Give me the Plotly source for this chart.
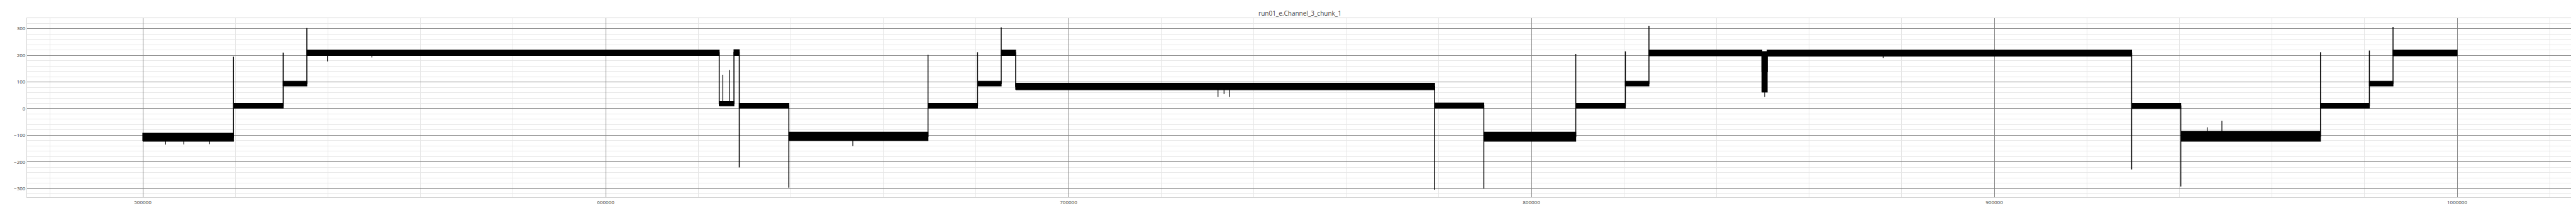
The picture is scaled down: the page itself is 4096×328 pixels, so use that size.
import plotly.graph_objects as go

# ---- data ----
title_text = "run01_e.Channel_3_chunk_1"

# plateau segments: start, end, lower edge of noise band, upper edge of noise band
seg_start = [500000, 519600, 530340, 535450, 624540, 627720, 628870, 639580, 669650, 680350, 685460,
             688580, 779100, 789730, 809590, 820300, 825400, 849800, 850950, 929680, 940300, 970480,
             981040, 986150]
seg_end = [519600, 530340, 535450, 624540, 627720, 628870, 639580, 669650, 680350, 685460, 688580,
           779100, 789730, 809590, 820300, 825400, 849800, 850950, 929680, 940300, 970480, 981040,
           986150, 1000000]
seg_lo = [-122, 2, 85, 199, 10, 199, 2, -120, 2, 85, 199, 71, 2, -122, 2, 85, 198, 62, 197, 0, -122, 2, 85, 198]
seg_hi = [-92, 20, 103, 220, 27, 221, 20, -88, 20, 103, 220, 95, 21, -88, 20, 103, 220, 214, 220, 20, -85, 20, 103, 220]

# spike reached at the step at the end of each segment (None = plain step)
step_peak = [195, 210, 302, None, None, None, -296, 202, 211, 305, None, -304, -299, 205, 215, 311,
             None, None, -228, -292, 211, 218, 306]
# extra spike at the step: E->F has -220 dip when leaving F
step_peak[5] = -220

# isolated excursions inside plateaus: position and extreme value
exc_x = [504940, 508860, 514420, 539900, 549500, 625300, 626730, 653400, 732300, 733600, 734800,
         850400, 876000, 949180, 946000]
exc_y = [-135, -134, -133, 177, 192, 127, 145, -140, 44, 55, 44, 44, 190, -46, -70]

x_range = [475000, 1025000]
y_range = [-332, 339]
x_dtick, x_minor = 100000, 20000
y_dtick, y_minor = 100, 20

# ---- build traces ----
band_x, band_y = [], []
for x0, x1, lo, hi in zip(seg_start, seg_end, seg_lo, seg_hi):
    band_x += [x0, x1, x1, x0, x0, None]
    band_y += [lo, lo, hi, hi, lo, None]

mids = [(lo + hi) / 2 for lo, hi in zip(seg_lo, seg_hi)]
path_x, path_y = [], []
for i in range(len(seg_start)):
    path_x += [seg_start[i], seg_end[i]]
    path_y += [mids[i], mids[i]]
    if i < len(step_peak):
        pk = step_peak[i]
        if pk is not None:
            path_x += [seg_end[i]]
            path_y += [pk]

def mid_at(x):
    for x0, x1, m in zip(seg_start, seg_end, mids):
        if x0 <= x <= x1:
            return m
    return 0

ex_x, ex_y = [], []
for x, y in zip(exc_x, exc_y):
    ex_x += [x, x, None]
    ex_y += [mid_at(x), y, None]

fig = go.Figure()
fig.add_trace(go.Scatter(x=band_x, y=band_y, mode="lines", fill="toself", fillcolor="black",
                         line=dict(color="black", width=1.2), hoverinfo="skip", showlegend=False))
fig.add_trace(go.Scatter(x=path_x, y=path_y, mode="lines",
                         line=dict(color="black", width=1.5), showlegend=False))
fig.add_trace(go.Scatter(x=ex_x, y=ex_y, mode="lines",
                         line=dict(color="black", width=1.2), showlegend=False))

axis_common = dict(showline=True, mirror=True, linecolor="#d4d4d4", linewidth=1,
                   gridcolor="#858585", gridwidth=1, zeroline=False, ticks="",
                   tickfont=dict(family="Open Sans", size=8, color="#444"))
fig.update_xaxes(range=x_range, dtick=x_dtick, tick0=0, tickformat="d",
                 minor=dict(dtick=x_minor, showgrid=True, gridcolor="#e6e6e6", gridwidth=1),
                 automargin=False, **axis_common)
fig.update_yaxes(range=y_range, dtick=y_dtick, tick0=0,
                 minor=dict(dtick=y_minor, showgrid=True, gridcolor="#e6e6e6", gridwidth=1),
                 automargin=False, **axis_common)

fig.update_layout(
    width=4096, height=328,
    margin=dict(l=34.5, r=13, t=21, b=22),
    paper_bgcolor="white", plot_bgcolor="white",
    title=dict(text=title_text, x=0.5, xref="paper", y=1 - 13.9 / 328, yref="container",
               yanchor="middle", xanchor="center",
               font=dict(family="Open Sans", size=10, color="#444")),
    showlegend=False,
)

fig.write_html("out.html")
